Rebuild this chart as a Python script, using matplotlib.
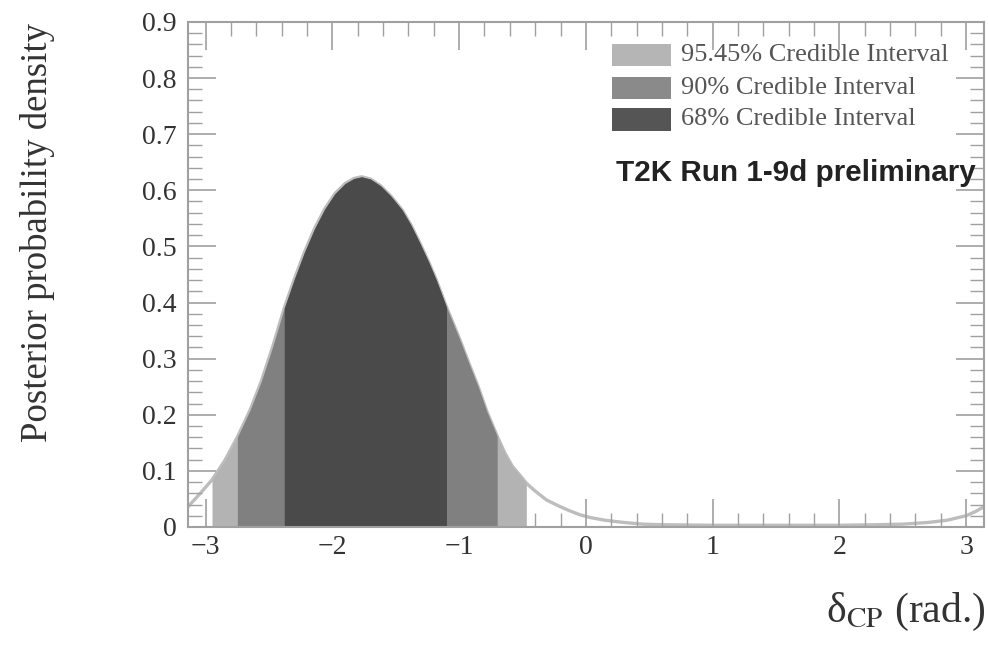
import numpy as np
import matplotlib
matplotlib.use("Agg")
import matplotlib.pyplot as plt
from matplotlib.patches import Rectangle
from matplotlib.ticker import MultipleLocator

plt.rcParams['font.family'] = ['Liberation Serif', 'DejaVu Serif']
plt.rcParams['mathtext.fontset'] = 'stix'

# posterior density
delta_cp = [-3.14, -3.05, -2.95, -2.85, -2.75, -2.65, -2.56, -2.47, -2.38, -2.30,
            -2.22, -2.14, -2.06, -1.98, -1.90, -1.83, -1.77, -1.70, -1.62, -1.54,
            -1.45, -1.38, -1.31, -1.24, -1.18, -1.10, -1.00, -0.92, -0.85, -0.78,
            -0.70, -0.64, -0.58, -0.52, -0.47, -0.40, -0.31, -0.22, -0.13, -0.05,
            0.03, 0.15, 0.30, 0.45, 0.60, 1.00, 1.50, 2.00, 2.30, 2.50,
            2.70, 2.85, 3.00, 3.07, 3.14]
density = [0.036, 0.058, 0.084, 0.118, 0.160, 0.208, 0.260, 0.322, 0.390, 0.442,
           0.490, 0.532, 0.567, 0.594, 0.612, 0.621, 0.624, 0.620, 0.608, 0.590,
           0.565, 0.538, 0.506, 0.472, 0.440, 0.392, 0.337, 0.290, 0.250, 0.205,
           0.162, 0.132, 0.108, 0.092, 0.078, 0.064, 0.048, 0.038, 0.029, 0.022,
           0.017, 0.012, 0.008, 0.005, 0.004, 0.003, 0.003, 0.003, 0.004, 0.005,
           0.008, 0.012, 0.020, 0.027, 0.036]

# credible intervals (low, high)
intervals = {
    '95.45% Credible Interval': (-2.95, -0.47),
    '90% Credible Interval': (-2.75, -0.70),
    '68% Credible Interval': (-2.38, -1.10),
}
fill_colors = ['#b3b3b3', '#808080', '#4a4a4a']
legend_cols = ['#b5b5b5', '#8a8a8a', '#555555']

x = np.array(delta_cp)
y = np.array(density)

fig = plt.figure(figsize=(9.88, 6.45), dpi=100)
ax = fig.add_axes([0.190, 0.183, 0.806, 0.783])

ax.plot(x, y, color='#bdbdbd', lw=2.4, zorder=1)
for (label, (lo, hi)), col in zip(intervals.items(), fill_colors):
    ax.fill_between(x, 0, y, where=(x >= lo - 1e-9) & (x <= hi + 1e-9),
                    color=col, linewidth=0, zorder=2)

ax.set_xlim(-np.pi, np.pi)
ax.set_ylim(0, 0.9)
ax.xaxis.set_minor_locator(MultipleLocator(0.2))
ax.yaxis.set_minor_locator(MultipleLocator(0.02))
ax.set_yticks(np.arange(0, 0.95, 0.1))
ax.set_yticklabels(['0'] + ['%.1f' % v for v in np.arange(0.1, 0.95, 0.1)])
ax.set_xticks(range(-3, 4))
ax.set_xticklabels(['\u22123', '\u22122', '\u22121', '0', '1', '2', '3'])

ax.tick_params(which='both', direction='in', top=True, right=True, color='#a0a0a0',
               labelsize=20, labelcolor='#333333')
ax.tick_params(which='major', length=20, width=1.2)
ax.tick_params(which='minor', length=10, width=1.0)
ax.tick_params(axis='x', pad=6)
ax.tick_params(axis='y', pad=8)
for sp in ax.spines.values():
    sp.set_color('#a0a0a0')
    sp.set_linewidth(1.5)

fig.text(0.038, 0.64, 'Posterior probability density', fontsize=26.5, rotation=90,
         ha='center', va='center', color='#333333')
fig.text(0.998, 0.035, '\u03b4$_{\\rm CP}$ (rad.)', fontsize=30, ha='right',
         va='baseline', color='#333333')

# legend drawn in axes fraction coordinates
box_y = [0.913, 0.847, 0.785]
for (label, _), col, by in zip(intervals.items(), legend_cols, box_y):
    ax.add_patch(Rectangle((0.533, by), 0.074, 0.044, transform=ax.transAxes,
                           facecolor=col, edgecolor='none', zorder=4))
    ax.text(0.620, by + 0.022, label, transform=ax.transAxes, fontsize=19,
            va='center', ha='left', color='#555555')

ax.text(0.538, 0.700, 'T2K Run 1-9d preliminary', transform=ax.transAxes,
        fontsize=21.3, fontweight='bold', family=['Liberation Sans', 'DejaVu Sans'],
        va='center', ha='left', color='#222222')

fig.savefig('out.png', dpi=100)
